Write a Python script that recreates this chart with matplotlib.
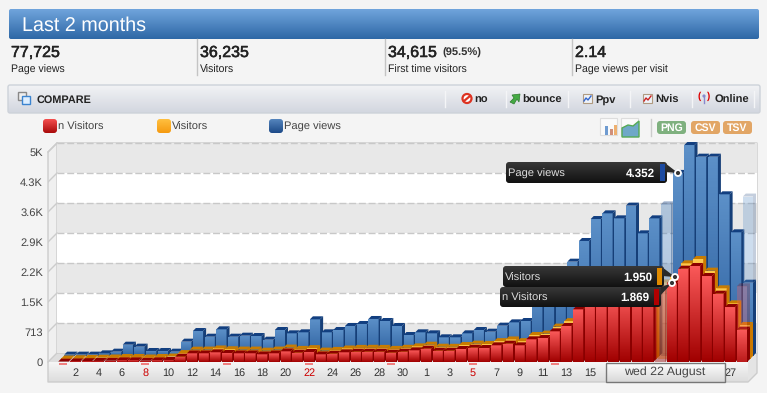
import numpy as np
import matplotlib
matplotlib.use("Agg")
import matplotlib.pyplot as plt
import matplotlib.patheffects as pe
from matplotlib.colors import LinearSegmentedColormap
from matplotlib.patches import FancyBboxPatch, Polygon, Rectangle, Circle

plt.rcParams["font.family"] = ["Liberation Sans", "DejaVu Sans"]
plt.rcParams["text.hinting"] = "no_hinting"

# values per day, 1 July to 28 August
n_visitors = [10, 15, 20, 25, 30, 40, 40, 30, 40, 48, 127, 206, 206, 230, 214, 206, 206, 182, 206, 253,
              222, 238, 182, 198, 230, 245, 245, 245, 222, 245, 277,
              317, 269, 269, 309, 340, 333, 396, 436, 396, 539, 570, 729, 856, 1252, 1480, 1530, 1560, 1600,
              1640, 1700, 1750, 1869, 2218, 2282, 2044, 1624, 1307, 769]
visitors = [12, 18, 24, 30, 36, 48, 48, 36, 48, 58, 140, 222, 224, 250, 232, 224, 224, 198, 224, 272,
            240, 258, 200, 216, 250, 264, 266, 264, 240, 266, 300,
            340, 292, 290, 332, 365, 358, 425, 465, 424, 570, 604, 770, 900, 1310, 1540, 1590, 1620, 1670,
            1710, 1770, 1820, 1950, 2274, 2377, 2100, 1680, 1323, 808]
page_views = [32, 32, 32, 63, 103, 269, 222, 119, 119, 103, 341, 594, 459, 634, 459, 483, 475, 388, 618, 539,
              563, 872, 563, 618, 713, 761, 880, 832, 713, 499, 563,
              539, 444, 444, 539, 618, 578, 721, 800, 832, 1500, 1750, 1950, 2242, 2734, 3256, 3391, 3272, 3574,
              2916, 3272, 3605, 4352, 5015, 4738, 4738, 3843, 2940, 1743]

# the day fading out under the selection, and the ghost of the last day
fading_day = 51
ghost_day = 58
ghost_page_views = 3790
ghost_n_visitors = 1800

y_ticks = [0, 713, 1426, 2139, 2852, 3565, 4278, 4991]
y_labels = ["0", "713", "1.5K", "2.2K", "2.9K", "3.6K", "4.3K", "5K"]
# labels 17 to 25 of August sit under the date box, so they are left out
x_ticks = list(range(1, 30, 2)) + list(range(31, 46, 2)) + [57]
x_labels = [str(d) for d in range(2, 31, 2)] + [str(d) for d in range(1, 16, 2)] + ["27"]
sundays = [0, 7, 14, 21, 28, 35, 42, 49, 56]

stats = [("77,725", "Page views", 11), ("36,235", "Visitors", 200),
         ("34,615", "First time visitors", 388), ("2.14", "Page views per visit", 575)]

W, H = 767, 393
PX_X = 11.7      # pixels per day
PX_Y = 1 / 23.77  # pixels per unit
BAR_W = 10.2 / PX_X
DEPTH_X = 3 / PX_X
DEPTH_Y = 3 / PX_Y

fig = plt.figure(figsize=(W / 100, H / 100), dpi=100, facecolor="#f4f4f4")

bg = fig.add_axes([0, 0, 1, 1], zorder=0)
bg.set_xlim(0, W)
bg.set_ylim(H, 0)
bg.axis("off")


def vgrad(a, x0, y0, x1, y1, top, bottom, z=1, clip=None):
    cmap = LinearSegmentedColormap.from_list("g", [top, bottom])
    im = a.imshow(np.linspace(0, 1, 64).reshape(-1, 1), cmap=cmap, extent=(x0, x1, y1, y0),
                  aspect="auto", zorder=z)
    if clip is not None:
        im.set_clip_path(clip)
    return im


def round_box(a, x0, y0, x1, y1, top, bottom, edge="none", r=2, z=1):
    p = FancyBboxPatch((x0 + r, y0 + r), x1 - x0 - 2 * r, y1 - y0 - 2 * r,
                       boxstyle="round,pad=%g,rounding_size=%g" % (r, r),
                       fc="none", ec=edge, lw=1, zorder=z + 0.1)
    a.add_patch(p)
    vgrad(a, x0, y0, x1, y1, top, bottom, z, p)


# page header
round_box(bg, 9, 9, 759, 39, "#70a4dc", "#2e68a6")
bg.text(22, 31, "Last 2 months", color="white", fontsize=14.2, va="baseline", zorder=3)
for value, label, x in stats:
    t = bg.text(x, 57, value, color="#222222", fontsize=11.5, va="baseline", zorder=3)
    t.set_path_effects([pe.withStroke(linewidth=0.4, foreground="#222222")])
    bg.text(x, 73, label, color="#222222", fontsize=7.6, va="baseline", zorder=3)
bg.text(442, 56, "(95.5%)", color="#333333", fontsize=8, fontweight="bold", va="baseline", zorder=3)
for x in [196.5, 384.5, 571.5]:
    bg.plot([x, x], [39, 75], color="#c4c4c4", lw=1, zorder=2)

# compare bar
round_box(bg, 8, 85, 760, 113, "#f2f3f5", "#d2d6df", edge="#cdd2d9")
bg.add_patch(Rectangle((18, 92), 8, 8, fc="#eeeeee", ec="#888888", lw=1, zorder=3))
bg.add_patch(Rectangle((22, 96), 8, 8, fc="#ddeeff", ec="#3b84d0", lw=1, zorder=3))
bg.text(37, 102.5, "COMPARE", color="#222222", fontsize=7.8, fontweight="bold", va="baseline", zorder=3)
for x in [444.5, 505.5, 567.5, 629.5, 691.5, 753.5]:
    bg.plot([x, x], [91, 107], color="#f4f5f7", lw=1, zorder=3)
for label, x in [("no", 474), ("bounce", 522), ("Ppv", 595), ("Nvis", 655), ("Online", 715)]:
    bg.text(x, 102.5, label, color="#222222", fontsize=8, fontweight="bold", va="baseline", zorder=3)
bg.add_patch(Circle((467, 98.5), 4.5, fc="white", ec="#dd3322", lw=1.6, zorder=3))
bg.plot([464, 470], [101, 96], color="#dd3322", lw=1.6, zorder=4)
bg.add_patch(Polygon([[510, 102], [514, 98], [512, 95], [520, 94], [519, 102], [517, 99], [514, 104]],
                     fc="#44aa44", ec="#2d7a2d", lw=0.5, zorder=3))
for x0, color in [(583, "#3366cc"), (643, "#cc2222")]:
    bg.add_patch(Rectangle((x0, 94), 9, 9, fc="#eef2f8", ec="#b09a80", lw=0.8, zorder=3))
    bg.plot([x0 + 1, x0 + 3, x0 + 5, x0 + 8], [101, 98, 100, 96], color=color, lw=1, zorder=4)
bg.plot([704, 704], [97, 103], color="#8888cc", lw=1, zorder=3)
bg.add_patch(Circle((704, 96), 1.6, fc="#8888cc", ec="none", zorder=4))
bg.text(699, 96, "(", color="#dd0000", fontsize=7, fontweight="bold", ha="center", va="center", zorder=3)
bg.text(709, 96, ")", color="#dd0000", fontsize=7, fontweight="bold", ha="center", va="center", zorder=3)

# legend
for label, x0, top, bottom in [("n Visitors", 43, "#f55050", "#a80a0a"),
                               ("Visitors", 157, "#ffc040", "#f59a10"),
                               ("Page views", 269, "#5585bd", "#1d4a88")]:
    round_box(bg, x0, 119, x0 + 14, 133, top, bottom, r=3)
    bg.text(x0 + 15, 130, label, color="#444444", fontsize=8, va="baseline", zorder=3)

# export buttons and the chart type icons
for x0 in [600, 621]:
    bg.add_patch(Rectangle((x0, 118), 17, 17, fc="#fafafa", ec="#dddddd", lw=0.8, zorder=2))
for x0, h, c in [(605, 9, "#6f9bd0"), (610, 6, "#d08f7a"), (614, 10, "#eeb070")]:
    bg.add_patch(Rectangle((x0, 135 - h), 3, h, fc=c, ec="none", zorder=3))
bg.add_patch(Polygon([[622, 137], [622, 128], [628, 125], [633, 126], [639, 121], [639, 137]],
                     fc="#6fa8c8", ec="#55aa55", lw=1, zorder=3))
bg.plot([650.5, 650.5], [119, 136], color="#cccccc", lw=1, zorder=2)
for label, x0, x1, c in [("PNG", 657, 686, "#7fb17f"), ("CSV", 691, 720, "#e2a666"), ("TSV", 723, 752, "#e2a666")]:
    round_box(bg, x0, 121, x1, 134, c, c, r=3)
    bg.text((x0 + x1) / 2, 131, label, color="white", fontsize=7.6, fontweight="bold",
            ha="center", va="baseline", zorder=3)

# chart frame below the bars
bg.add_patch(Polygon([[48, 362], [57, 353], [757, 353], [748, 362]], fc="#dedede", ec="none", zorder=1))
bg.add_patch(Polygon([[48, 152], [57, 143], [57, 353], [48, 362]], fc="#f0f0f0", ec="none", zorder=1))
vgrad(bg, 48, 362, 748, 382, "#f6f6f6", "#dcdcdc", z=1)
bg.add_patch(Polygon([[748, 362], [757, 353], [757, 373], [748, 382]], fc="#e4e4e4", ec="none", zorder=1))
bg.plot([48, 48, 748, 757, 757, 57, 57], [152, 382, 382, 373, 143, 143, 353], color="#cccccc", lw=1, zorder=2)
bg.plot([48, 57], [152, 143], color="#cccccc", lw=1, zorder=2)
bg.plot([48, 57, 757], [362, 353, 353], color="#cccccc", lw=1, zorder=2)

# bars, in real axes: one unit of x is a day and y=0 sits on the front edge
ax_top = 130
ax_bottom = 362
ax = fig.add_axes([48 / W, 1 - ax_bottom / H, (757 - 48) / W, (ax_bottom - ax_top) / H], zorder=1)
ax.patch.set_alpha(0)
for s in ax.spines.values():
    s.set_visible(False)

wall_dx = 3 * DEPTH_X
wall_dy = 3 * DEPTH_Y
for i in range(len(y_ticks) - 1):
    if i % 2 == 0:
        ax.axhspan(y_ticks[i] + wall_dy, y_ticks[i + 1] + wall_dy, xmin=9 / 709, color="#e8e8e8", lw=0, zorder=0)
    else:
        ax.axhspan(y_ticks[i] + wall_dy, y_ticks[i + 1] + wall_dy, xmin=9 / 709, color="white", lw=0, zorder=0)
for v in y_ticks[1:]:
    ax.axhline(v + wall_dy, xmin=9 / 709, color="#c8c8c8", lw=1, ls=(0, (5, 2)), zorder=0.5)
    ax.plot([-1.31, -1.31 + wall_dx], [v, v + wall_dy], color="#cccccc", lw=1, zorder=0.5)


def draw_series(values, step, top, bottom, roof, side, z, alpha_day=None, ghost=None):
    dx = step * DEPTH_X
    dy = step * DEPTH_Y
    for day, v in enumerate(values):
        alpha = 0.4 if day == alpha_day else 1
        x0 = day - BAR_W / 2 + dx
        x1 = day + BAR_W / 2 + dx
        y1 = dy + v
        zz = z + day * 0.001
        b = ax.bar(x0, v, width=BAR_W, bottom=dy, align="edge", color="none", lw=0, zorder=zz)[0]
        im = vgrad(ax, x0, y1, x1, dy, top, bottom, z=zz, clip=b)
        im.set_alpha(alpha)
        ax.add_patch(Polygon([[x0, y1], [x0 + DEPTH_X, y1 + DEPTH_Y], [x1 + DEPTH_X, y1 + DEPTH_Y], [x1, y1]],
                             fc=roof, ec="none", alpha=alpha, zorder=zz))
        ax.add_patch(Polygon([[x1, dy], [x1, y1], [x1 + DEPTH_X, y1 + DEPTH_Y], [x1 + DEPTH_X, dy + DEPTH_Y]],
                             fc=side, ec="none", alpha=alpha, zorder=zz))
    if ghost is not None:
        day, v = ghost
        x0 = day - BAR_W / 2 + dx
        x1 = day + BAR_W / 2 + dx
        y1 = dy + v
        ax.bar(x0, v, width=BAR_W, bottom=dy, align="edge", color=top, alpha=0.3, lw=0, zorder=z + 0.5)
        ax.add_patch(Polygon([[x0, y1], [x0 + DEPTH_X, y1 + DEPTH_Y], [x1 + DEPTH_X, y1 + DEPTH_Y],
                              [x1 + DEPTH_X, dy + DEPTH_Y], [x1, dy], [x1, y1]],
                             fc=side, ec="none", alpha=0.25, zorder=z + 0.5))


draw_series(page_views, 2, "#5c90c8", "#2c5f9e", "#123f80", "#163f78", 1, fading_day, (ghost_day, ghost_page_views))
draw_series(visitors, 1, "#ffc94d", "#e08a00", "#c97c00", "#cc7a00", 2, fading_day)
draw_series(n_visitors, 0, "#fb5a5a", "#a00000", "#8c0000", "#8a0000", 3, fading_day, (ghost_day, ghost_n_visitors))

ax.bar(sundays, [-45] * len(sundays), width=8 / PX_X, bottom=-18, color="#f08080", lw=0, clip_on=False, zorder=5)

ax.set_xlim(-1.31, 59.29)
ax.set_ylim(0, (ax_bottom - ax_top) / PX_Y)
ax.set_xticks(x_ticks)
ax.set_xticklabels(x_labels, fontsize=7.8, color="#333333")
ax.set_yticks(y_ticks)
ax.set_yticklabels(y_labels, fontsize=8, color="#444444")
ax.tick_params(axis="x", length=0, pad=4)
ax.tick_params(axis="y", length=0, pad=3.5)
for lab in ax.get_xticklabels():
    if lab.get_text() in ("8", "22", "5"):
        lab.set_color("#cc0000")

# tooltips on top of everything
top_ax = fig.add_axes([0, 0, 1, 1], zorder=2)
top_ax.set_xlim(0, W)
top_ax.set_ylim(H, 0)
top_ax.axis("off")
top_ax.patch.set_alpha(0)

vgrad(top_ax, 605, 362, 725, 382, "#ffffff", "#d8d8d8", z=4)
top_ax.add_patch(Rectangle((605.5, 362.5), 119, 19, fc="none", ec="#777777", lw=1, zorder=4.1))
top_ax.text(665, 376, "wed 22 August", color="#444444", fontsize=8.9, ha="center", va="baseline", zorder=5)


def tooltip(name, value, x0, x1, y0, y1, color, target_x, target_y):
    top_ax.add_patch(Polygon([[x1 - 2, y0 + 1], [x1 - 2, y0 + 10], [target_x, target_y]], fc="#2a2a2a", ec="none", zorder=6))
    round_box(top_ax, x0, y0, x1, y1, "#383838", "#111111", r=3, z=6)
    base = (y0 + y1) / 2 + 4
    top_ax.text(x0 + 2, base, name, color="#dddddd", fontsize=8, va="baseline", zorder=7)
    top_ax.text(x1 - 12, base, value, color="white", fontsize=8.4, fontweight="bold",
                ha="right", va="baseline", zorder=7)
    top_ax.add_patch(Rectangle((x1 - 7, y0 + 2), 5, y1 - y0 - 4, fc=color, ec="none", zorder=7))
    top_ax.add_patch(Circle((target_x, target_y), 3, fc="#333333", ec="white", lw=1.3, zorder=8))


tooltip("Page views", "4.352", 506, 667, 162, 183, "#1c4aa0", 678, 173)
tooltip("Visitors", "1.950", 503, 664, 266, 287, "#e08a00", 675, 277)
tooltip("n Visitors", "1.869", 500, 661, 287, 307, "#b00000", 672, 283)

plt.savefig("out.png", dpi=100, facecolor=fig.get_facecolor())
